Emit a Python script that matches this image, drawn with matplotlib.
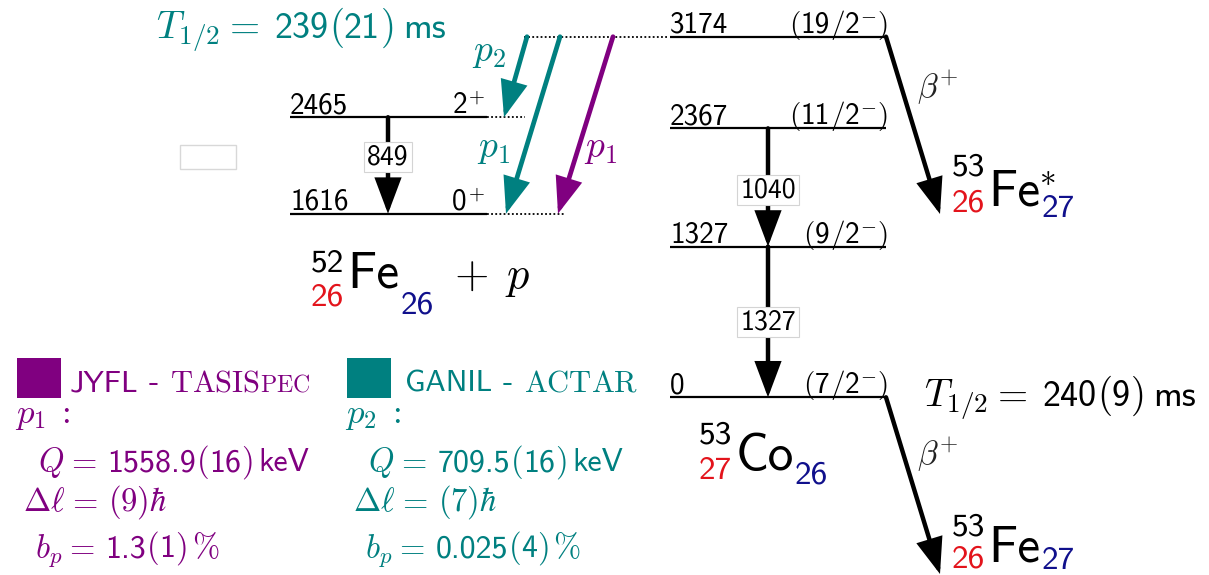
import matplotlib
matplotlib.use("Agg")
import matplotlib.pyplot as plt
import matplotlib.transforms as mtransforms
from matplotlib.patches import Rectangle

plt.rcParams["mathtext.fontset"] = "cm"
plt.rcParams["font.family"] = ["DejaVu Sans"]
SANS = ["cmss10", "DejaVu Sans"]

W, H = 1209, 575
PURPLE = "#800080"
TEAL = "#008080"
RED = "#e3141c"
NAVY = "#10108c"

# 53Co levels (keV) and spins
co_energies = [3174, 2367, 1327, 0]
co_spins = ["19/2", "11/2", "9/2", "7/2"]
# 52Fe + p levels (keV) and spins
fe_energies = [2465, 1616]
fe_spins = ["2", "0"]
# gamma transitions (initial, final) in keV
gamma_from = [2465, 2367, 1327]
gamma_to = [1616, 1327, 0]
# proton branches out of the 3174 keV isomer
proton_from = [3174, 3174, 3174]
proton_to = [2465, 1616, 1616]
proton_names = ["p_{2}", "p_{1}", "p_{1}"]
proton_setups = ["GANIL", "GANIL", "JYFL"]

# measured quantities
t_half_isomer = ("239", "21")
t_half_gs = ("240", "9")
p1_q, p1_l, p1_b = ("1558.9", "16"), "9", ("1.3", "1")
p2_q, p2_l, p2_b = ("709.5", "16"), "7", ("0.025", "4")

setup_color = {"GANIL": TEAL, "JYFL": PURPLE}

# energy axis: keV per pixel and pixel row of the 0 keV level
KEV_PER_PX = 8.802
Y0 = 397.3

fig = plt.figure(figsize=(W / 100, H / 100), dpi=100)
ax = fig.add_axes([0, 0, 1, 1])
ax.set_xlim(0, W)
ax.set_ylim((Y0 - H) * KEV_PER_PX, Y0 * KEV_PER_PX)
ax.axis("off")

# pixel transform (origin top-left) for labels
pix = mtransforms.Affine2D().scale(1, -1).translate(0, H)
renderer = fig.canvas.get_renderer()


def kev(py):
    return (Y0 - py) * KEV_PER_PX


def row(E):
    return Y0 - E / KEV_PER_PX


def chain(x, y, parts, color="k", size=20, msize=None, ha="left", sizes=None):
    """Place text pieces side by side; '$...$' pieces are math, others sans,
    numbers are horizontal gaps in pixels."""
    texts = []
    cur = x
    for i, p in enumerate(parts):
        if isinstance(p, (int, float)):
            cur += p
            continue
        is_math = p.startswith("$")
        fs = size
        if is_math and msize:
            fs = msize
        if sizes and sizes[i]:
            fs = sizes[i]
        kw = {} if is_math else {"fontfamily": SANS}
        t = ax.text(cur, y, p, transform=pix, fontsize=fs, color=color,
                    ha="left", va="baseline", **kw)
        cur = t.get_window_extent(renderer).x1
        texts.append(t)
    width = cur - x
    shift = {"left": 0, "right": -width, "center": -width / 2}[ha]
    if shift:
        for t in texts:
            px, py = t.get_position()
            t.set_position((px + shift, py))
    return cur + shift


def arrow(x0, y0, x1, y1, color, lw=3.2):
    ax.annotate("", xy=(x1, y1), xytext=(x0, y0),
                arrowprops=dict(arrowstyle="-|>,head_length=2.0,head_width=0.75",
                                mutation_scale=10, lw=lw, color=color,
                                shrinkA=0, shrinkB=0, joinstyle="miter"))


LV = 21


def level(x0, x1, E, left, right):
    ax.plot([x0, x1], [E, E], color="k", lw=1.6, solid_capstyle="butt")
    chain(x0, row(E) - 4, left, size=LV)
    chain(x1 + 1, row(E) - 4, right, size=LV, ha="right")


# --- 53Co level scheme ---
CO_X = (670, 886)
for E, J in zip(co_energies, co_spins):
    a, b = J.split("/")
    level(CO_X[0], CO_X[1], E, [str(E)],
          ["$($", a, "$/$", b, "${}^{-}$", "$)$"])

# --- 52Fe + p levels ---
FE_X = (290, 487)
for E, J in zip(fe_energies, fe_spins):
    level(FE_X[0], FE_X[1], E, [str(E)], [J, "${}^{+}$", 3])

# gamma cascades with energy boxes
gamma_x = [388, 768, 768]
label_frac = [0.41, 0.52, 0.5]
for Ei, Ef, gx, fr in zip(gamma_from, gamma_to, gamma_x, label_frac):
    arrow(gx, Ei, gx, Ef, "k")
    ax.text(gx, Ei - fr * (Ei - Ef), str(Ei - Ef), fontfamily=SANS,
            ha="center", va="center", fontsize=20,
            bbox=dict(boxstyle="square,pad=0.1", fc="white", ec="#d4d4d4", lw=0.8))

# proton emission arrows and dotted level extensions
tail_x = [527, 560, 613]
tip_x = [504, 506, 558]
name_pos = [(472, 61), (477, 157), (584, 157)]
for Ei, Ef, tx, hx, nm, st, (nx, ny) in zip(proton_from, proton_to, tail_x, tip_x,
                                           proton_names, proton_setups, name_pos):
    c = setup_color[st]
    arrow(tx, Ei, hx, Ef, c, lw=3.4)
    ax.text(nx, ny, r"$%s$" % nm, transform=pix, color=c, fontsize=27,
            ha="left", va="baseline")

dot = dict(color="k", lw=1.3, ls=(0, (1, 1.3)))
ax.plot([min(tail_x) - 3, CO_X[0] - 2], [proton_from[0]] * 2, **dot)
ax.plot([FE_X[1], max(tail_x[0], tip_x[0]) - 2], [fe_energies[0]] * 2, **dot)
ax.plot([FE_X[1], max(tip_x) + 7], [fe_energies[1]] * 2, **dot)

# empty label frame
ax.add_patch(Rectangle((180, 145), 56, 24, transform=pix, fc="white",
                       ec="#d8d8d8", lw=1.0))

# beta decays
bx0, bx1 = CO_X[1], 940
arrow(bx0, co_energies[0], bx1, kev(214), "k")
arrow(bx0, co_energies[-1], bx1, kev(574), "k")
for by in (98, 465):
    ax.text(917, by, r"$\beta^{+}$", transform=pix, fontsize=24, color="#222222",
            va="baseline")

# half-lives
TS = 26
chain(156, 38, ["$T_{1/2}$", 3, "$=$", 15, t_half_isomer[0], "$($",
                t_half_isomer[1], "$)$", 10, "ms"], color=TEAL, size=TS, msize=28)
chain(924, 406, ["$T_{1/2}$", 3, "$=$", 15, t_half_gs[0], "$($",
                 t_half_gs[1], "$)$", 10, "ms"], color="k", size=TS, msize=28)


def nuclide(x, A, Z, sym, N, a_base, z_base, s_base, n_base, star=False,
            size=37, ssize=24):
    ax.text(x, a_base, A, transform=pix, fontsize=ssize, fontfamily=SANS,
            va="baseline", ha="left", color="k")
    tz = ax.text(x, z_base, Z, transform=pix, fontsize=ssize, fontfamily=SANS,
                 va="baseline", ha="left", color=RED)
    xs = tz.get_window_extent(renderer).x1 + 3
    ts = ax.text(xs, s_base, sym, transform=pix, fontsize=size, fontfamily=SANS,
                 va="baseline", ha="left", color="k")
    xe = ts.get_window_extent(renderer).x1 + 1
    tn = ax.text(xe, n_base, N, transform=pix, fontsize=ssize, fontfamily=SANS,
                 va="baseline", ha="left", color=NAVY)
    if star:
        ax.text(xe - 2, s_base - 20, r"$*$", transform=pix, fontsize=ssize,
                va="baseline", ha="left", color="k")
    return tn.get_window_extent(renderer).x1


nuclide(952, "53", "26", "Fe", "27", 176, 212, 205, 217, star=True)
nuclide(699, "53", "27", "Co", "26", 443, 479, 470, 483)
nuclide(952, "53", "26", "Fe", "27", 535, 567, 561, 569)
xe = nuclide(311, "52", "26", "Fe", "26", 272, 305, 288, 314)
chain(xe + 20, 288, ["$+$", 17, "$p$"], size=32)

# legend with the two experiments
LS = 23
MS = 23.5


def sq(x, color):
    ax.add_patch(Rectangle((x, 358), 44, 40, transform=pix, fc=color, ec="none"))


sq(17, PURPLE)
chain(70, 391, ["JYFL", 10, "-", 11, r"$\mathrm{TASIS}$", r"$\mathrm{PEC}$"],
      color=PURPLE, size=22, sizes=[None, None, None, None, None, 22 * 0.78])
sq(347, TEAL)
chain(405, 391, ["GANIL", 10, "-", 11, r"$\mathrm{ACTAR}$"], color=TEAL, size=22)

for x0, name, q, l, b, c in [(15, "p_{1}", p1_q, p1_l, p1_b, PURPLE),
                             (345, "p_{2}", p2_q, p2_l, p2_b, TEAL)]:
    chain(x0, 423, ["$%s$" % name, 9, "$:$"], color=c, size=LS, msize=25)
    chain(x0 + 23, 471, ["$Q$", 2, "$=$", 10, q[0], "$($", q[1], "$)$", 6, "keV"],
          color=c, size=LS, msize=MS)
    chain(x0 + 8, 511, [r"$\Delta\ell$", 2, "$=$", 10, r"$(%s)\hbar$" % l],
          color=c, size=LS, msize=MS)
    chain(x0 + 20, 557, ["$b_{p}$", 2, "$=$", 10, b[0], "$($", b[1], "$)$", 5,
                         r"$\%$"], color=c, size=LS, msize=MS)

fig.savefig("out.png", dpi=100, facecolor="white")
